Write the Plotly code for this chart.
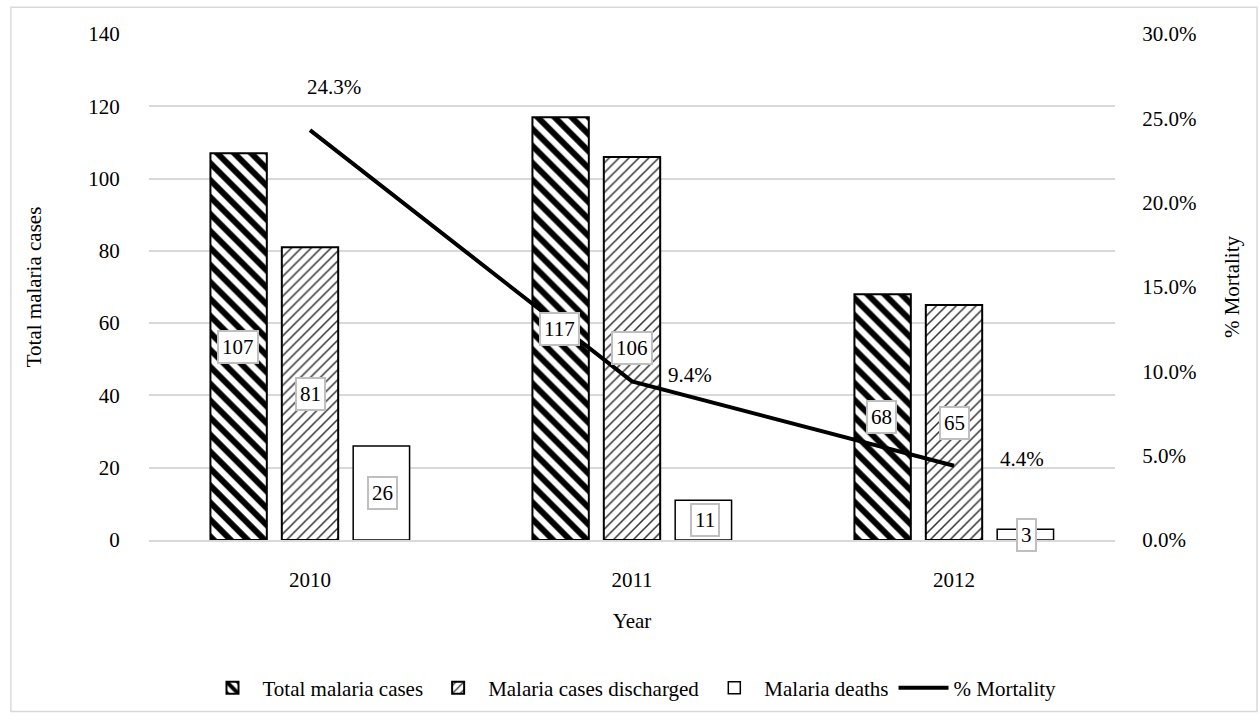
import plotly.graph_objects as go

years = ["2010", "2011", "2012"]
total_cases = [107, 117, 68]
discharged = [81, 106, 65]
deaths = [26, 11, 3]
mortality = [0.243, 0.094, 0.044]
mortality_labels = ["24.3%", "9.4%", "4.4%"]

FONT = "Liberation Serif, Times New Roman, serif"
FS = 21
fig = go.Figure()

fig.add_trace(go.Bar(
    name="Total malaria cases", x=years, y=total_cases,
    marker=dict(color="white", line=dict(color="black", width=2),
                pattern=dict(shape="\\", fgcolor="black", bgcolor="white",
                             fgopacity=1, size=12, solidity=0.5)),
))
fig.add_trace(go.Bar(
    name="Malaria cases discharged", x=years, y=discharged,
    marker=dict(color="white", line=dict(color="black", width=2),
                pattern=dict(shape="/", fgcolor="#333333", bgcolor="white",
                             fgopacity=1, size=7, solidity=0.22)),
))
fig.add_trace(go.Bar(
    name="Malaria deaths", x=years, y=deaths,
    marker=dict(color="white", line=dict(color="black", width=1.5)),
))
fig.add_trace(go.Scatter(
    name="% Mortality", x=years, y=mortality, yaxis="y2",
    mode="lines", line=dict(color="black", width=4),
))

# value boxes centred on each bar (category axes place annotations by index)
offsets = [-1, 0, 1]
series = [total_cases, discharged, deaths]
slot = 72.5
for s, off in zip(series, offsets):
    for i, v in enumerate(s):
        fig.add_annotation(
            x=i, y=v / 2, text=str(v), showarrow=False,
            xshift=off * slot,
            font=dict(family=FONT, size=FS, color="black"),
            bgcolor="white", bordercolor="#bfbfbf", borderwidth=2, borderpad=3,
        )

# mortality labels beside the line
shifts = [(24, 43), (58, 6), (68, 7)]
for i, (m, lab, (dx, dy)) in enumerate(zip(mortality, mortality_labels, shifts)):
    fig.add_annotation(
        x=i, y=m, yref="y2", text=lab, showarrow=False,
        xshift=dx, yshift=dy,
        font=dict(family=FONT, size=FS, color="black"),
    )

# outer chart border
fig.add_shape(type="rect", xref="paper", yref="paper",
              x0=-0.143, x1=1.147, y0=-0.339, y1=1.053,
              line=dict(color="#d9d9d9", width=1.5), fillcolor="rgba(0,0,0,0)",
              layer="below")

fig.update_layout(
    width=1260, height=719,
    margin=dict(l=149, r=145, t=34, b=178),
    paper_bgcolor="white", plot_bgcolor="white",
    font=dict(family=FONT, size=FS, color="black"),
    barmode="group", bargap=0.335, bargroupgap=0.21,
    showlegend=True,
    legend=dict(orientation="h", x=0.5, xanchor="center", y=-0.29, yanchor="middle",
                font=dict(family=FONT, size=FS), traceorder="normal",
                itemwidth=50),
    xaxis=dict(
        type="category", range=[-0.5, 2.5],
        title=dict(text="Year", font=dict(family=FONT, size=FS), standoff=22),
        showline=True, linecolor="#d9d9d9", linewidth=1.5,
        ticks="outside", ticklen=20, tickcolor="rgba(0,0,0,0)",
        showgrid=False, tickfont=dict(size=FS),
    ),
    yaxis=dict(
        title=dict(text="Total malaria cases", font=dict(family=FONT, size=FS), standoff=40),
        range=[0, 140], dtick=20, showgrid=True, gridcolor="#d9d9d9", gridwidth=1.5,
        zeroline=False, showline=False, tickfont=dict(size=FS),
        ticks="outside", ticklen=24, tickcolor="rgba(0,0,0,0)",
    ),
    yaxis2=dict(
        title=dict(text="% Mortality", font=dict(family=FONT, size=FS), standoff=28),
        overlaying="y", side="right", range=[0, 0.30], dtick=0.05,
        tickformat=".1%", showgrid=False, zeroline=False, showline=False,
        ticks="outside", ticklen=22, tickcolor="rgba(0,0,0,0)",
        tickfont=dict(size=FS),
    ),
)

fig.write_html("out.html")
